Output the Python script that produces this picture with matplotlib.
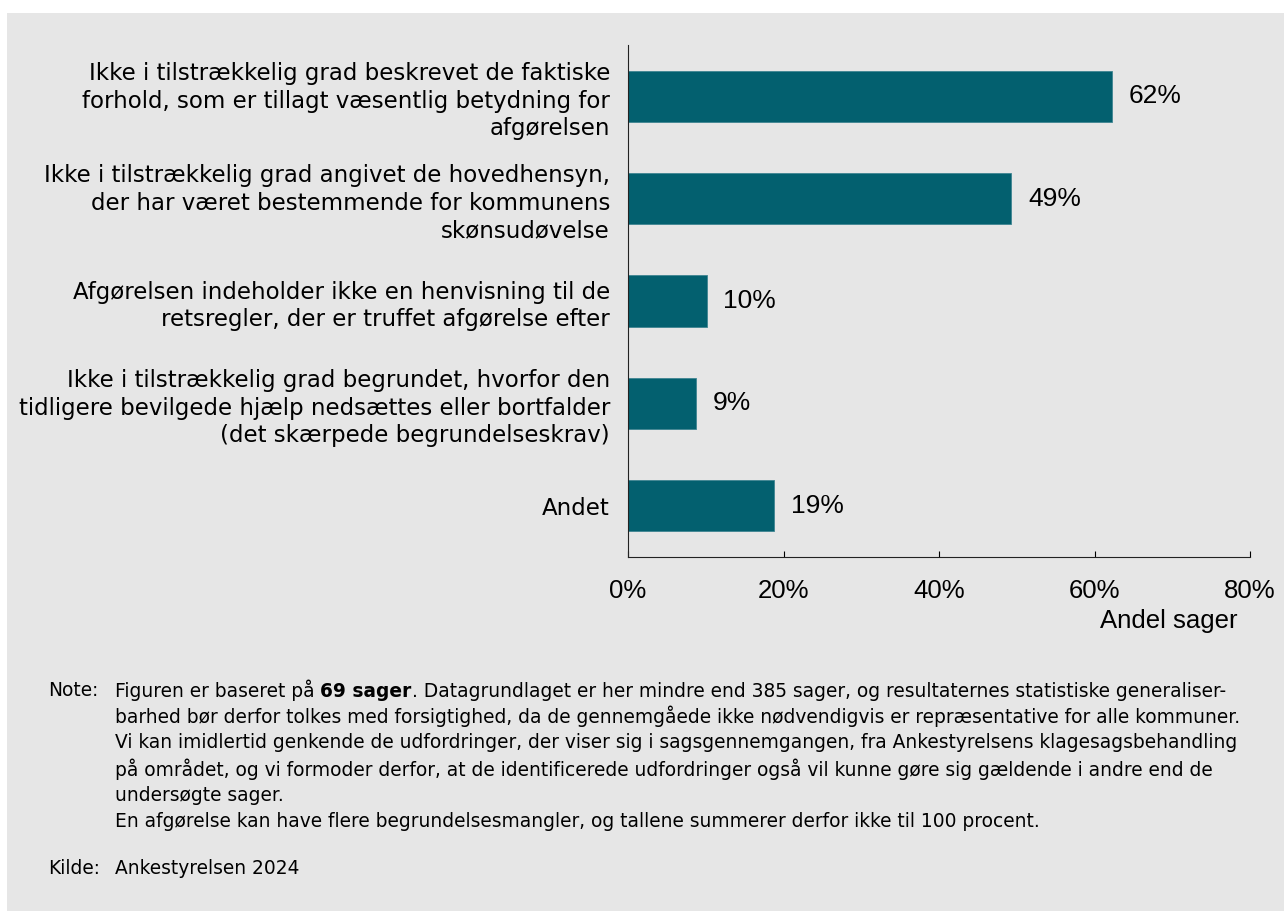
import matplotlib.pyplot as plt
from matplotlib.patches import Rectangle
from matplotlib.ticker import PercentFormatter

# Data (top to bottom), share of 69 cases
categories = [
    "Ikke i tilstrækkelig grad beskrevet de faktiske\nforhold, som er tillagt væsentlig betydning for\nafgørelsen",
    "Ikke i tilstrækkelig grad angivet de hovedhensyn,\nder har været bestemmende for kommunens\nskønsudøvelse",
    "Afgørelsen indeholder ikke en henvisning til de\nretsregler, der er truffet afgørelse efter",
    "Ikke i tilstrækkelig grad begrundet, hvorfor den\ntidligere bevilgede hjælp nedsættes eller bortfalder\n(det skærpede begrundelseskrav)",
    "Andet",
]
shares = [62.3, 49.3, 10.1, 8.7, 18.8]
x_ticks = [0, 20, 40, 60, 80]

bar_color = "#03606f"
bg = "#e6e6e6"
label_font = "DejaVu Sans"
num_font = "Liberation Sans"

fig = plt.figure(figsize=(12.84, 9.11), dpi=100)
fig.patch.set_facecolor("white")
fig.patches.append(Rectangle((7 / 1284, 0), 1, (911 - 13) / 911, transform=fig.transFigure,
                             facecolor=bg, edgecolor="none", zorder=-10))

ax = fig.add_axes([628 / 1284, 354 / 911, 622 / 1284, 512 / 911])
ax.set_facecolor("none")

ypos = list(range(len(categories)))
bars = ax.barh(ypos, shares, height=0.5, color=bar_color, edgecolor="#3f8591", linewidth=0.6)
ax.set_ylim(len(categories) - 0.5, -0.5)
ax.set_xlim(0, 80)

ax.set_yticks(ypos)
ax.set_yticklabels(categories, fontsize=16.5, family=label_font, ha="right",
                   multialignment="right", linespacing=1.26)
ax.tick_params(axis="y", length=0, pad=13)

ax.set_xticks(x_ticks)
ax.xaxis.set_major_formatter(PercentFormatter(decimals=0))
ax.tick_params(axis="x", direction="in", length=4.5, width=0.8, pad=16, labelsize=18.5)
for lbl in ax.get_xticklabels():
    lbl.set_family(num_font)

for side in ["top", "right"]:
    ax.spines[side].set_visible(False)
for side in ["left", "bottom"]:
    ax.spines[side].set_linewidth(0.8)
    ax.spines[side].set_color("#222222")

ax.bar_label(bars, labels=[f"{v:.0f}%" for v in shares], padding=12, fontsize=19, family=num_font)

fig.text(1237 / 1284, 1 - 621 / 911, "Andel sager", ha="right", va="center",
         fontsize=18.5, family=num_font)

# Note and source
note_size = 13.4
line_h = 26.3
x_lab = 48 / 1284
x_body = 115 / 1284
y0 = 690

fig.text(x_lab, 1 - y0 / 911, "Note:", fontsize=note_size, family=label_font, va="center")
t1 = fig.text(x_body, 1 - y0 / 911, "Figuren er baseret på ", fontsize=note_size,
              family=label_font, va="center")
t2 = plt.annotate("69 sager", xy=(1, 0), xycoords=t1, va="bottom", ha="left",
                  fontsize=note_size, family=label_font, weight="bold")
plt.annotate(". Datagrundlaget er her mindre end 385 sager, og resultaternes statistiske generaliser-",
             xy=(1, 0), xycoords=t2, va="bottom", ha="left", fontsize=note_size, family=label_font)

note_lines = [
    "barhed bør derfor tolkes med forsigtighed, da de gennemgåede ikke nødvendigvis er repræsentative for alle kommuner.",
    "Vi kan imidlertid genkende de udfordringer, der viser sig i sagsgennemgangen, fra Ankestyrelsens klagesagsbehandling",
    "på området, og vi formoder derfor, at de identificerede udfordringer også vil kunne gøre sig gældende i andre end de",
    "undersøgte sager.",
    "En afgørelse kan have flere begrundelsesmangler, og tallene summerer derfor ikke til 100 procent.",
]
for i, line in enumerate(note_lines, start=1):
    fig.text(x_body, 1 - (y0 + i * line_h) / 911, line, fontsize=note_size,
             family=label_font, va="center")

fig.text(x_lab, 1 - 868 / 911, "Kilde:", fontsize=note_size, family=label_font, va="center")
fig.text(x_body, 1 - 868 / 911, "Ankestyrelsen 2024", fontsize=note_size, family=label_font, va="center")

fig.savefig("out.png", dpi=100)
